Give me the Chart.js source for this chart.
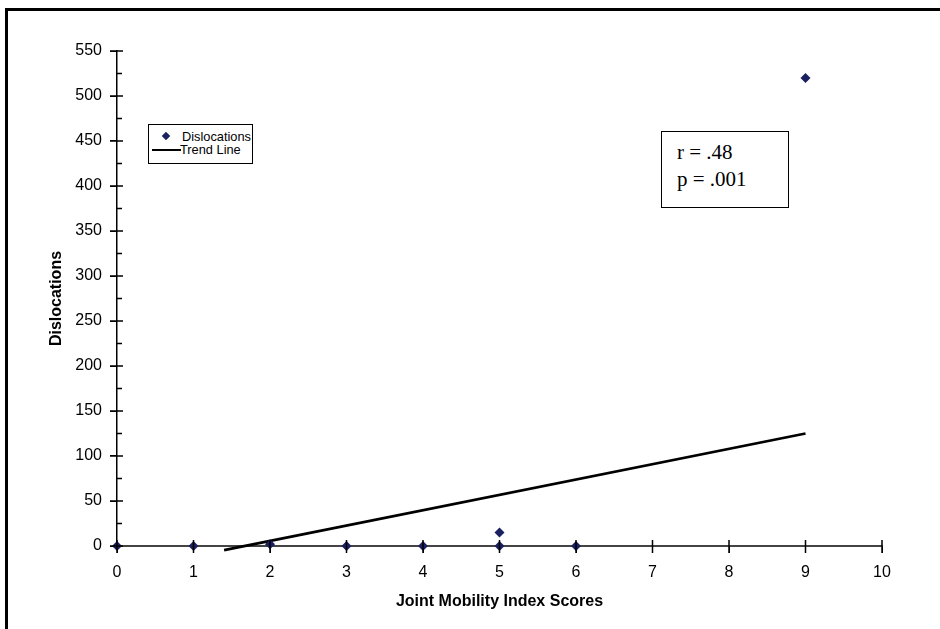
<!DOCTYPE html>
<html>
<head>
<meta charset="utf-8">
<script src="https://cdn.jsdelivr.net/npm/chart.js@4.4.1/dist/chart.umd.min.js"></script>
<style>
  html, body { margin: 0; padding: 0; background: #fff; }
  #wrap { position: relative; width: 940px; height: 629px; overflow: hidden; }
  #frame { position: absolute; left: 5px; top: 8px; width: 1000px; height: 700px;
    border-left: 3px solid #000; border-top: 3px solid #000; }
  canvas { position: absolute; left: 0; top: 0; }
  #legend { position: absolute; left: 148px; top: 124px; width: 103px; height: 38px;
    border: 1px solid #000; background: #fff; font-family: "Liberation Sans", Arial, sans-serif;
    font-size: 12.8px; color: #000; }
  #legend .row { position: absolute; left: 0; height: 13px; line-height: 13px; }
  #legend .dia { position: absolute; left: 14px; top: 3px; width: 6px; height: 6px;
    background: #1b2060; transform: rotate(45deg); }
  #legend .ln { position: absolute; left: 3px; top: 6px; width: 29px; height: 2px; background: #000; }
  #stats { position: absolute; left: 661px; top: 131px; width: 126px; height: 75px;
    border: 1.5px solid #000; background: #fff; font-family: "Liberation Serif", "Times New Roman", serif;
    font-size: 21px; line-height: 27px; padding: 0; }
  #stats div { position: absolute; left: 15px; }
</style>
</head>
<body>
<div id="wrap">
  <canvas id="chart" width="940" height="629"></canvas>
  <div id="frame"></div>
  <div id="legend">
    <div class="row" style="top:5px;width:100%"><span class="dia"></span><span style="position:absolute;left:33px">Dislocations</span></div>
    <div class="row" style="top:18px;width:100%"><span class="ln"></span><span style="position:absolute;left:31px">Trend Line</span></div>
  </div>
  <div id="stats">
    <div style="top:7px">r = .48</div>
    <div style="top:34px">p = .001</div>
  </div>
</div>
<script>
// Joint mobility index score vs. number of dislocations
const scores = [0, 1, 2, 3, 4, 5, 5, 6, 9];
const dislocations = [0, 0, 2, 0, 0, 0, 15, 0, 520];
// trend line end points (x, y)
const trendX = [1.4, 9];
const trendY = [-4.5, 125];
const yTicks = [0, 50, 100, 150, 200, 250, 300, 350, 400, 450, 500, 550];
const xTicks = [0, 1, 2, 3, 4, 5, 6, 7, 8, 9, 10];

const axisColor = '#444';
const font = { family: '"Liberation Sans", Arial, sans-serif', size: 16 };

// ticks crossing the axis line + minor ticks on y
const crossTicks = {
  id: 'crossTicks',
  afterDraw(chart) {
    const { ctx, scales: { x, y } } = chart;
    const x0 = x.getPixelForValue(0);
    const y0 = y.getPixelForValue(0);
    ctx.save();
    ctx.strokeStyle = '#000';
    ctx.lineWidth = 1.5;
    ctx.beginPath();
    yTicks.forEach(v => {
      const py = y.getPixelForValue(v);
      ctx.moveTo(x0 - 7, py); ctx.lineTo(x0 + 6, py);
      if (v < 550) {
        const pm = y.getPixelForValue(v + 25);
        ctx.moveTo(x0, pm); ctx.lineTo(x0 + 5, pm);
      }
    });
    xTicks.forEach(v => {
      const px = x.getPixelForValue(v);
      ctx.moveTo(px, y0 - 6); ctx.lineTo(px, y0 + 7);
    });
    ctx.stroke();
    ctx.restore();
  }
};

new Chart(document.getElementById('chart'), {
  type: 'scatter',
  data: {
    datasets: [{
      label: 'Dislocations',
      data: scores.map((s, i) => ({ x: s, y: dislocations[i] })),
      pointStyle: 'rectRot',
      pointRadius: 5,
      backgroundColor: '#1b2060',
      borderColor: '#1b2060',
      borderWidth: 0,
      clip: false
    }, {
      label: 'Trend Line',
      type: 'line',
      data: trendX.map((t, i) => ({ x: t, y: trendY[i] })),
      borderColor: '#000',
      borderWidth: 2.8,
      pointRadius: 0,
      fill: false,
      clip: false
    }]
  },
  options: {
    responsive: false,
    animation: false,
    layout: { padding: { left: 0, top: 51, right: 58, bottom: 0 } },
    plugins: { legend: { display: false }, tooltip: { enabled: false } },
    scales: {
      x: {
        type: 'linear',
        min: 0, max: 10,
        afterFit(s) { s.height = 83; },
        afterBuildTicks(s) { s.ticks = xTicks.map(v => ({ value: v })); },
        grid: { drawOnChartArea: false, drawTicks: true, tickLength: 7, color: '#000' },
        border: { display: true, color: axisColor, width: 2 },
        ticks: { color: '#000', font: font, padding: 10, maxRotation: 0 },
        title: { display: true, text: 'Joint Mobility Index Scores', color: '#000',
          font: { family: font.family, size: 16, weight: 'bold' }, padding: { top: 0, bottom: 18 } }
      },
      y: {
        type: 'linear',
        min: 0, max: 550,
        afterFit(s) { s.width = 117; },
        afterBuildTicks(s) { s.ticks = yTicks.map(v => ({ value: v })); },
        grid: { drawOnChartArea: false, drawTicks: true, tickLength: 7, color: '#000' },
        border: { display: true, color: '#000', width: 1.5 },
        ticks: { color: '#000', font: font, padding: 8 },
        title: { display: true, text: 'Dislocations', color: '#000',
          font: { family: font.family, size: 16, weight: 'bold' }, padding: { top: 47, bottom: 0 } }
      }
    }
  },
  plugins: [crossTicks]
});
</script>
</body>
</html>
